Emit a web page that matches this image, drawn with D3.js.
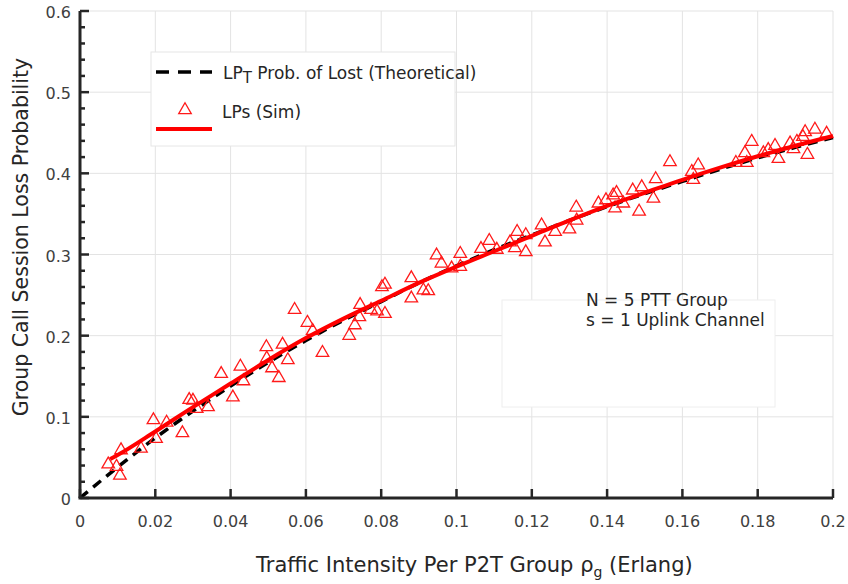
<!doctype html>
<html lang="en">
<head>
<meta charset="utf-8">
<title>Group Call Session Loss Probability</title>
<script src="https://d3js.org/d3.v7.min.js"></script>
<style>
    body { margin: 0; background: #fff; font-family: "DejaVu Sans", Verdana, sans-serif; }
    text { fill: #262626; }
    .tick-label { font-size: 16px; fill: #404040; }
    .grid line { stroke: #e3e3e3; stroke-width: 1; }
</style>
</head>
<body>
<div id="chart"></div>
<script>
// traffic intensity for the curves (Erlang)
const rho = [0, 0.01, 0.02, 0.03, 0.04, 0.05, 0.06, 0.07, 0.08, 0.09, 0.1,
             0.11, 0.12, 0.13, 0.14, 0.15, 0.16, 0.17, 0.18, 0.19, 0.2];
// theoretical loss probability
const lpTheory = [0, 0.038, 0.074, 0.107, 0.138, 0.167, 0.194, 0.219, 0.242, 0.265, 0.286,
                  0.306, 0.324, 0.342, 0.359, 0.375, 0.390, 0.405, 0.419, 0.432, 0.444];
// fitted simulation line
const rhoSimLine = [0.008, 0.01, 0.02, 0.03, 0.04, 0.05, 0.06, 0.07, 0.08, 0.09, 0.1,
                    0.11, 0.12, 0.13, 0.14, 0.15, 0.16, 0.17, 0.18, 0.19, 0.2];
const lpSimLine = [0.048, 0.053, 0.082, 0.112, 0.141, 0.170, 0.197, 0.221, 0.243, 0.265, 0.285,
                   0.304, 0.323, 0.342, 0.360, 0.376, 0.392, 0.407, 0.421, 0.434, 0.446];
// simulation samples
const simX = [0.0075, 0.0097, 0.0106, 0.0109, 0.0162, 0.0195, 0.0202, 0.023, 0.0272, 0.029,
              0.030, 0.031, 0.034, 0.0375, 0.0406, 0.0426, 0.0434, 0.0495, 0.0496, 0.051,
              0.0528, 0.0538, 0.0552, 0.057, 0.0604, 0.0618, 0.0644, 0.0715, 0.073, 0.0744,
              0.0742, 0.0773, 0.0789, 0.0802, 0.081, 0.081, 0.088, 0.088, 0.0912, 0.0925,
              0.0947, 0.096, 0.0987, 0.101, 0.101, 0.1065, 0.1087, 0.1107, 0.1142, 0.1155,
              0.1161, 0.1184, 0.1184, 0.1226, 0.1235, 0.1262, 0.130, 0.1318, 0.1319, 0.1377,
              0.1397, 0.1416, 0.1421, 0.1425, 0.1443, 0.1468, 0.1485, 0.1492, 0.1523, 0.1529,
              0.1567, 0.1625, 0.1629, 0.1642, 0.1742, 0.1766, 0.1771, 0.1784, 0.1815, 0.1828,
              0.1846, 0.1855, 0.1886, 0.1895, 0.1904, 0.1926, 0.192, 0.1932, 0.1952, 0.1983];
const simY = [0.0415, 0.0386, 0.0277, 0.059, 0.061, 0.096, 0.073, 0.093, 0.080, 0.121,
              0.120, 0.110, 0.112, 0.153, 0.124, 0.162, 0.144, 0.186, 0.172, 0.160,
              0.148, 0.189, 0.170, 0.232, 0.216, 0.206, 0.179, 0.200, 0.213, 0.238,
              0.223, 0.232, 0.230, 0.260, 0.263, 0.227, 0.271, 0.246, 0.256, 0.255,
              0.299, 0.289, 0.283, 0.301, 0.285, 0.307, 0.317, 0.306, 0.315, 0.308,
              0.328, 0.324, 0.303, 0.336, 0.315, 0.328, 0.331, 0.358, 0.342, 0.363,
              0.367, 0.373, 0.357, 0.376, 0.363, 0.379, 0.353, 0.383, 0.369, 0.393,
              0.414, 0.402, 0.392, 0.410, 0.413, 0.425, 0.413, 0.439, 0.425, 0.429,
              0.434, 0.418, 0.437, 0.430, 0.439, 0.451, 0.445, 0.423, 0.454, 0.449];
const xTicks = [0, 0.02, 0.04, 0.06, 0.08, 0.1, 0.12, 0.14, 0.16, 0.18, 0.2];
const yTicks = [0, 0.1, 0.2, 0.3, 0.4, 0.5, 0.6];
const yMinor = [0.02, 0.04, 0.06, 0.08, 0.12, 0.14, 0.16, 0.18, 0.22, 0.24, 0.26, 0.28,
                0.32, 0.34, 0.36, 0.38, 0.42, 0.44, 0.46, 0.48, 0.52, 0.54, 0.56, 0.58];

const W = 848, H = 584;
const margin = {left: 80, right: 15, top: 11, bottom: 86};
const width = W - margin.left - margin.right;
const height = H - margin.top - margin.bottom;

const svg = d3.select("#chart").append("svg")
    .attr("width", W)
    .attr("height", H);
const g = svg.append("g").attr("transform", `translate(${margin.left},${margin.top})`);

const x = d3.scaleLinear().domain([0, 0.2]).range([0, width]);
const y = d3.scaleLinear().domain([0, 0.6]).range([height, 0]);

// grid
const grid = g.append("g").attr("class", "grid");
grid.selectAll(".gx").data(xTicks).enter().append("line")
    .attr("x1", d => x(d)).attr("x2", d => x(d))
    .attr("y1", 0).attr("y2", height);
grid.selectAll(".gy").data(yTicks).enter().append("line")
    .attr("x1", 0).attr("x2", width)
    .attr("y1", d => y(d)).attr("y2", d => y(d));

// legend box
const legend = svg.append("g").attr("class", "legend");
legend.append("rect")
    .attr("x", 151).attr("y", 52).attr("width", 304).attr("height", 94)
    .attr("fill", "#fff").attr("stroke", "#e6e6e6").attr("stroke-width", 1);

// annotation box
svg.append("rect")
    .attr("x", 502).attr("y", 300).attr("width", 273).attr("height", 107)
    .attr("fill", "#fff").attr("stroke", "#eeeeee").attr("stroke-width", 1);

// curves
const theoryLine = d3.line().x((d, i) => x(rho[i])).y(d => y(d)).curve(d3.curveMonotoneX);
g.append("path")
    .datum(lpTheory)
    .attr("d", theoryLine)
    .attr("fill", "none")
    .attr("stroke", "#000")
    .attr("stroke-width", 3.5)
    .attr("stroke-dasharray", "10,7");

const simPoints = g.append("g");
simPoints.selectAll(".pt")
    .data(simX)
    .enter().append("path")
    .attr("d", d3.symbol().type(d3.symbolTriangle).size(68))
    .attr("transform", (d, i) => `translate(${x(d)},${y(simY[i])})`)
    .attr("fill", "none")
    .attr("stroke", "#ff1a1a")
    .attr("stroke-width", 1.3);

const simLine = d3.line().x((d, i) => x(rhoSimLine[i])).y(d => y(d)).curve(d3.curveMonotoneX);
g.append("path")
    .datum(lpSimLine)
    .attr("d", simLine)
    .attr("fill", "none")
    .attr("stroke", "#ff0000")
    .attr("stroke-width", 4);

// axes
const axisColor = "#262626";
g.append("line").attr("x1", 0).attr("x2", 0).attr("y1", 0).attr("y2", height)
    .attr("stroke", axisColor).attr("stroke-width", 3);
g.append("line").attr("x1", -1.5).attr("x2", width).attr("y1", height).attr("y2", height)
    .attr("stroke", axisColor).attr("stroke-width", 3);

g.selectAll(".ytick").data(yTicks).enter().append("line")
    .attr("x1", 0).attr("x2", 9)
    .attr("y1", d => y(d)).attr("y2", d => y(d))
    .attr("stroke", axisColor).attr("stroke-width", 2.5);
g.selectAll(".yminor").data(yMinor).enter().append("line")
    .attr("x1", 0).attr("x2", 5)
    .attr("y1", d => y(d)).attr("y2", d => y(d))
    .attr("stroke", axisColor).attr("stroke-width", 2.5);
g.selectAll(".xtick").data(xTicks).enter().append("line")
    .attr("x1", d => x(d)).attr("x2", d => x(d))
    .attr("y1", height).attr("y2", height - 9)
    .attr("stroke", axisColor).attr("stroke-width", 2.5);

g.selectAll(".ylab").data(yTicks).enter().append("text")
    .attr("class", "tick-label")
    .attr("x", -9)
    .attr("y", d => y(d) + 7)
    .attr("text-anchor", "end")
    .text(d => d3.format("")(d));
g.selectAll(".xlab").data(xTicks).enter().append("text")
    .attr("class", "tick-label")
    .attr("x", d => x(d))
    .attr("y", height + 29)
    .attr("text-anchor", "middle")
    .text(d => d3.format("")(d));

// axis titles
svg.append("text")
    .attr("transform", "translate(28,237) rotate(-90)")
    .attr("text-anchor", "middle")
    .attr("font-size", 20.5)
    .text("Group Call Session Loss Probability");

const xt = svg.append("text")
    .attr("x", 256)
    .attr("y", 572)
    .attr("text-anchor", "start")
    .attr("font-size", 21);
xt.append("tspan").text("Traffic Intensity Per P2T Group \u03c1");
xt.append("tspan").attr("font-size", 14).attr("dy", 5).text("g");
xt.append("tspan").attr("dy", -5).text(" (Erlang)");

// legend entries
legend.append("line")
    .attr("x1", 156).attr("x2", 212).attr("y1", 72).attr("y2", 72)
    .attr("stroke", "#000").attr("stroke-width", 3.5)
    .attr("stroke-dasharray", "13,9");
const lt = legend.append("text").attr("x", 223).attr("y", 79).attr("font-size", 17);
lt.append("tspan").text("LP");
lt.append("tspan").attr("font-size", 15).attr("dy", 4).text("T");
lt.append("tspan").attr("dy", -4).text(" Prob. of Lost (Theoretical)");

legend.append("path")
    .attr("d", d3.symbol().type(d3.symbolTriangle).size(68))
    .attr("transform", "translate(185,110)")
    .attr("fill", "none").attr("stroke", "#ff1a1a").attr("stroke-width", 1.3);
legend.append("line")
    .attr("x1", 156).attr("x2", 212).attr("y1", 129).attr("y2", 129)
    .attr("stroke", "#ff0000").attr("stroke-width", 4);
legend.append("text").attr("x", 222).attr("y", 118).attr("font-size", 17)
    .text("LPs (Sim)");

// annotation
svg.append("text").attr("x", 586).attr("y", 306).attr("font-size", 17)
    .text("N = 5 PTT Group");
svg.append("text").attr("x", 586).attr("y", 326).attr("font-size", 17)
    .text("s = 1 Uplink Channel");
</script>
</body>
</html>
